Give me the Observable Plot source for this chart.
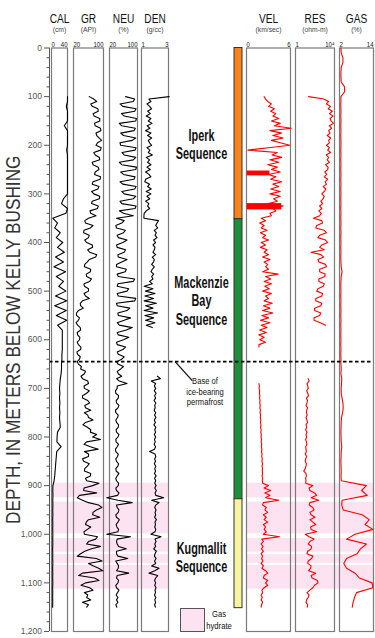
<!DOCTYPE html>
<html>
<head>
<meta charset="utf-8">
<script src="https://cdn.jsdelivr.net/npm/d3@7"></script>
<script src="https://cdn.jsdelivr.net/npm/@observablehq/plot@0.6"></script>
<style>
html,body{margin:0;padding:0;background:#fff;}
#chart{position:relative;width:375px;height:638px;overflow:hidden;font-family:"Liberation Sans",Arial,Helvetica,sans-serif;}
#chart svg{position:absolute;top:0;}
.legend-box{position:absolute;left:180px;top:608px;width:25px;height:24px;box-sizing:border-box;background:#fde3f1;border:1px solid #555;}
.legend-text{position:absolute;left:204px;top:609px;width:30px;text-align:center;font-size:9px;line-height:11.5px;color:#111;transform:scaleX(0.85);}
</style>
</head>
<body>
<div id="chart">
  <div class="legend-box"></div>
  <div class="legend-text">Gas<br>hydrate</div>
</div>
<script>
// ---------------- DATA ----------------
const LOG_TOP = 100;      // first depth of the wireline logs (m)
const GAS_TOP = 0;        // first depth of the mud-gas log (m)
const FINE_STEP = 5;      // sampling of GR, NEU, DEN, VEL, RES (m)
const COARSE_STEP = 10;   // sampling of CAL and GAS (m)

// Caliper (cm), 100–1150 m every 10 m
const calValues = [
  40, 40, 37, 40, 40, 40, 32, 40, 40, 40,
  40, 38, 40, 40, 40, 40, 40, 40, 40, 40,
  40, 30, 25, 40, 36, 3, 15, 8, 22, 12,
  28, 15, 32, 10, 30, 6, 35, 12, 30, 18,
  36, 10, 38, 8, 37, 12, 38, 15, 27, 27,
  27, 27, 27, 26, 26, 25, 25, 24, 22, 21,
  20, 21, 20, 21, 20, 21, 20, 21, 22, 15,
  14, 13.5, 24, 13, 12, 11, 10, 9, 8, 6.5,
  3.5, 3.2, 3.6, 3.2, 3.5, 3.1, 3.4, 3.0, 3.3, 3.0,
  3.4, 3.1, 3.3, 2.9, 3.2, 3.0, 3.3, 2.9, 3.2, 3.0,
  3.3, 2.9, 3.1, 2.9, 3.1, 2.8
];
// Gamma ray (API), 100–1150 m every 5 m
const grValues = [
  62, 74, 82, 66, 70, 85, 86, 72, 75, 90, 90, 76, 78, 92, 93, 80, 82, 88, 95, 84,
  80, 94, 92, 74, 78, 89, 90, 70, 72, 86, 88, 78, 76, 92, 91, 72, 70, 88, 85, 68,
  74, 90, 89, 70, 68, 86, 84, 64, 66, 80, 60, 50, 52, 72, 65, 48, 47, 62, 60, 50,
  55, 70, 71, 58, 63, 82, 79, 62, 57, 50, 49, 66, 65, 54, 55, 68, 63, 48, 49, 60,
  60, 48, 52, 62, 44, 38, 39, 46, 33, 28, 28, 36, 33, 27, 31, 38, 39, 30, 31, 37,
  36, 30, 33, 40, 39, 29, 31, 38, 36, 30, 33, 41, 39, 52, 49, 40, 44, 58, 60, 48,
  49, 62, 55, 44, 44, 58, 63, 50, 52, 66, 49, 58, 60, 72, 52, 45, 57, 66, 65, 82,
  71, 92, 55, 48, 65, 86, 49, 60, 60, 44, 47, 62, 57, 50, 49, 66, 65, 52, 55, 88,
  71, 48, 47, 82, 36, 30, 44, 60, 87, 96, 81, 72, 71, 90, 60, 54, 52, 66, 57, 48,
  49, 84, 79, 60, 55, 92, 68, 50, 39, 30, 81, 96, 60, 72, 87, 98, 44, 34, 76, 88,
  52, 40, 63, 72, 49, 58, 55, 66, 44, 60, 55
];
// Neutron porosity (%), 100–1150 m every 5 m
const neuValues = [
  66, 92, 88, 50, 58, 96, 92, 54, 62, 97, 95, 48, 55, 94, 90, 52, 60, 95, 85, 50,
  52, 96, 93, 56, 62, 95, 88, 48, 55, 97, 95, 52, 60, 93, 90, 50, 58, 96, 92, 55,
  62, 95, 88, 50, 55, 96, 93, 48, 60, 88, 40, 62, 55, 38, 40, 65, 60, 42, 45, 70,
  58, 40, 42, 66, 62, 44, 45, 70, 55, 40, 40, 68, 65, 42, 45, 92, 88, 44, 42, 75,
  70, 42, 45, 95, 92, 40, 42, 78, 70, 44, 45, 80, 62, 42, 48, 85, 68, 42, 45, 75,
  60, 40, 42, 66, 58, 42, 45, 62, 55, 40, 44, 60, 52, 42, 45, 55, 40, 48, 70, 42,
  42, 37, 38, 46, 45, 39, 40, 47, 44, 37, 38, 45, 43, 38, 40, 46, 45, 39, 40, 47,
  44, 38, 39, 46, 42, 37, 38, 45, 43, 38, 40, 46, 44, 38, 39, 47, 42, 38, 40, 46,
  45, 38, 40, 47, 43, 12, 44, 85, 40, 42, 47, 45, 38, 40, 48, 44, 39, 41, 46, 44,
  12, 80, 42, 40, 42, 46, 68, 40, 40, 44, 72, 38, 42, 46, 45, 40, 75, 42, 40, 46,
  44, 38, 40, 47, 43, 39, 44, 40, 44, 38, 41
];
// Bulk density (g/cc), 100–1150 m every 5 m (null = not logged)
const denValues = [
  3.05, 1.55, 1.7, 1.4, 1.6, 1.75, 1.45, 1.65, 1.35, 1.7, 1.5, 1.78, 1.42, 1.62, 1.3, 1.7, 1.45, 1.75, 1.5, 1.6,
  1.75, 1.4, 1.62, 1.5, 1.8, 1.35, 1.6, 1.45, 1.7, 1.4, 1.65, 1.3, 1.55, 1.7, 1.3, 1.25, 1.6, 1.45, 1.72, 1.35,
  1.7, 1.4, 1.62, 1.3, 1.55, 1.45, 1.6, 1.35, 1.2, 1.18, 1.18, 2.26, 2.15, 2.05, 2.2, 1.95, 2.1, 2.0, 2.15, 1.9,
  2.05, 1.85, 2.0, 1.95, 1.85, 2.05, 1.8, 1.95, 1.9, 1.75, 1.95, 1.8, 1.7, 1.9, 1.75, 1.85, 1.6, 1.8, 1.2, 1.85,
  1.3, 2.0, 1.25, 1.9, 1.2, 2.1, 1.3, 1.85, 1.2, 2.2, 1.25, 1.9, 1.3, 2.0, 1.35, 1.8, null, null, null, null,
  null, null, null, null, null, null, null, null, null, null, null, null, null, null, null, 2.18, 2.4, 1.72, 2.05, 1.95,
  2.05, 1.95, 2.08, 1.97, 2.04, 1.93, 2.06, 1.98, 2.02, 1.94, 2.05, 1.97, 2.07, 1.95, 2.03, 1.92, 2.06, 1.98, 2.04, 1.95,
  2.05, 1.96, 2.02, 1.94, 2.04, 1.97, 1.6, 2.0, 2.06, 1.97, 2.04, 1.95, 2.06, 1.98, 2.04, 1.96, 2.08, 1.97, 2.05, 1.98,
  2.08, 1.98, 2.1, 2.0, 2.06, 2.65, 1.75, 2.3, 2.05, 1.98, 2.08, 2.0, 2.05, 1.97, 2.1, 2.0, 2.04, 1.98, 2.06, 2.0,
  1.7, 2.45, 2.0, 2.08, 1.98, 2.05, 1.9, 2.1, 2.0, 1.96, 2.08, 1.97, 2.05, 1.75, 2.3, 1.98, 1.55, 2.2, 2.05, 1.97,
  2.05, 1.98, 2.07, 2.0, 2.04, 1.96, 2.06, 1.98, 2.05, 1.97, 2.03
];
// Sonic velocity (km/sec), 100–1150 m every 5 m
const velValues = [
  2.4, 2.6, 2.9, 3.4, 3.0, 3.8, 3.3, 4.0, 3.6, 4.4, 3.4, 4.6, 3.8, 6.1, 3.2, 4.8, 3.6, 5.0, 3.4, 4.6,
  5.9, 3.0, 0.2, 4.2, 3.5, 4.8, 3.2, 4.4, 2.9, 4.2, 3.4, 4.6, 3.0, 4.0, 3.3, 4.8, 3.6, 4.4, 3.3, 4.6,
  3.2, 4.6, 3.7, 4.2, 3.0, 5.0, 3.6, 4.0, 3.2, 3.4, 2.0, 2.6, 1.8, 2.4, 2.0, 2.8, 1.9, 2.6, 2.2, 3.0,
  2.0, 2.6, 1.9, 2.8, 2.4, 3.0, 2.2, 3.2, 2.4, 2.9, 2.6, 3.0, 2.2, 4.3, 2.6, 3.3, 2.4, 3.4, 2.5, 3.1,
  2.2, 3.4, 2.6, 3.0, 2.4, 3.5, 2.3, 3.2, 2.2, 3.6, 2.1, 3.0, 1.9, 3.2, 2.0, 2.8, 1.8, 2.7, 1.7, 2.4,
  1.8, 2.6, 1.7, 1.7, null, null, null, null, null, null, null, null, null, null, null, null, null, null, 1.7, 1.75,
  1.72, 1.8, 1.75, 1.82, 1.78, 1.85, 1.8, 1.88, 1.82, 1.9, 1.85, 1.92, 1.88, 1.95, 1.9, 1.98, 1.92, 2.0, 1.95, 2.02,
  1.98, 2.05, 2.0, 2.08, 2.02, 2.1, 2.05, 2.12, 2.08, 2.15, 2.1, 2.2, 2.12, 2.18, 2.15, 2.2, 2.12, 2.22, 2.15, 2.2,
  3.0, 2.4, 3.3, 2.5, 3.2, 2.6, 4.4, 2.3, 2.2, 2.7, 2.5, 2.9, 2.3, 2.7, 2.4, 2.9, 2.3, 2.6, 2.4, 2.7,
  2.3, 4.5, 2.1, 2.3, 2.0, 2.25, 2.05, 2.3, 2.0, 2.2, 2.05, 2.25, 2.0, 2.3, 2.1, 2.6, 2.9, 2.4, 2.3, 2.9,
  2.6, 2.9, 2.4, 2.1, 2.2, 2.0, 2.15, 2.0, 2.2, 2.05, 2.0
];
// clusters of low-velocity spikes (m, km/sec)
const velBurstTops = [253, 320];
const velBurstBases = [263, 333];
const velBurstLow = [0.1, 0.1];
const velBurstHigh = [3.2, 4.8];
// Resistivity (ohm-m), 100–1150 m every 5 m
const resValues = [
  22, 800, 2500, 1500, 4000, 2200, 6000, 3000, 7000, 3500, 4500, 8000, 3000, 5000, 2500, 3500, 1800, 4000, 2500, 3000,
  1500, 3000, 2000, 4000, 1400, 2500, 1800, 3000, 1200, 2200, 2000, 1000, 1600, 900, 2000, 1100, 1500, 700, 1300, 900,
  500, 900, 700, 400, 600, 300, 500, 250, 450, 300, 70, 500, 600, 150, 120, 900, 1500, 300, 200, 1200,
  2000, 500, 300, 900, 40, 400, 800, 200, 250, 1200, 1500, 300, 300, 1100, 1000, 250, 250, 900, 700, 200,
  150, 600, 500, 120, 120, 500, 400, 90, 90, 400, 300, 80, 80, 350, 1200, null, null, null, null, null,
  null, null, null, null, null, null, null, null, null, null, null, null, null, null, null, null, 20, 25, 15, 18,
  20, 14, 18, 22, 13, 17, 15, 12, 17, 14, 13, 16, 12, 15, 17, 12, 14, 11, 15, 12,
  14, 11, 13, 15, 11, 12, 13, 10, 14, 11, 10, 13, 12, 10, 7, 12, 13, 11, 12, 11,
  60, 25, 30, 90, 150, 40, 240, 30, 25, 60, 80, 30, 40, 100, 30, 60, 120, 35, 40, 150,
  10, 25, 80, 30, 20, 45, 40, 18, 15, 60, 45, 20, 18, 40, 35, 22, 120, 40, 50, 180,
  200, 90, 60, 30, 15, 25, 20, 14, 12, 18, 16
];
// Mud gas (%), 0–1150 m every 10 m
const gasValues = [
  2.5, 2.6, 3.2, 3.2, 2.6, 2.5, 2.5, 2.6, 3.8, 3.8,
  2.5, 2.5, 2.45, 2.5, 2.45, 2.5, 2.45, 2.5, 2.45, 2.5,
  2.5, 2.45, 2.5, 2.45, 2.5, 2.45, 2.5, 2.45, 2.5, 2.45,
  2.5, 2.45, 2.5, 2.45, 2.5, 2.45, 2.5, 2.45, 2.5, 2.45,
  2.5, 2.45, 2.5, 2.45, 2.5, 2.6, 2.9, 2.6, 2.5, 2.45,
  2.5, 2.45, 2.5, 2.45, 2.5, 2.45, 2.5, 2.45, 2.5, 2.45,
  2.5, 2.45, 2.5, 2.45, 2.5, 2.5, 2.6, 2.5, 2.8, 2.7,
  2.6, 2.6, 2.9, 3.2, 3.3, 3.1, 2.7, 2.6, 2.55, 2.5,
  2.55, 2.6, 2.8, 2.6, 2.55, 2.5, 2.55, 2.6, 2.55, 2.6,
  11.5, 9.8, 11.8, 2.9, 2.8, 3.3, 10.0, 12.5, 11.0, 13.8,
  7.5, 4.5, 11.5, 9.4, 8.2, 4.5, 3.5, 4.5, 7.5, 9.0,
  13.5, 13.8, 8.0, 7.3, 6.8, 6.5
];

// Track headers
const trackNames = ["CAL", "GR", "NEU", "DEN", "VEL", "RES", "GAS"];
const trackUnits = ["(cm)", "(API)", "(%)", "(g/cc)", "(km/sec)", "(ohm-m)", "(%)"];
const trackMin = [0, 20, 20, 1, 0, 1, 2];
const trackMax = [40, 100, 100, 3, 6, 10000, 14];
const trackMinLabels = ["0", "20", "20", "1", "0", "1", "2"];
const trackMaxLabels = ["40", "100", "100", "3", "6", "10⁴", "14"];

// Gas hydrate intervals (m)
const hydrateTops = [895, 934, 1009, 1042, 1064];
const hydrateBases = [925, 999, 1037, 1060, 1113];

// Sequences (m)
const seqNames = ["Iperk", "Mackenzie Bay", "Kugmallit"];
const seqTops = [0, 352, 928];
const seqBases = [352, 928, 1152];
const seqColors = ["#f7841e", "#1d8f3a", "#f8f59e"];
const seqLabels = ["Iperk\nSequence", "Mackenzie\nBay\nSequence", "Kugmallit\nSequence"];
const seqLabelDepths = [198, 519, 1047];

const permafrostDepth = 645;
const permafrostLabel = "Base of\nice-bearing\npermafrost";

const depthTicks = [0, 100, 200, 300, 400, 500, 600, 700, 800, 900, 1000, 1100, 1200];
const depthMinorTicks = d3.range(0, 1201, 20).filter(d => d % 100 !== 0);
const depthTitle = "DEPTH, IN METERS BELOW KELLY BUSHING";

// ---------------- LAYOUT ----------------
const H = 638, MT = 47.5, MB = 7;
const FONT = '"Liberation Sans", Arial, Helvetica, sans-serif';
const PINK = "#fde3f1";
const trackLayout = {
  CAL: {left: 51, width: 16, color: "#000"},
  GR:  {left: 73, width: 30, color: "#000"},
  NEU: {left: 109, width: 28, color: "#000"},
  DEN: {left: 141, width: 27, color: "#000"},
  VEL: {left: 246, width: 44, color: "#ff0000"},
  RES: {left: 295, width: 39, color: "#ff0000"},
  GAS: {left: 339, width: 34, color: "#ff0000"}
};
const chart = document.getElementById("chart");

function series(start, step, values) {
  const out = []; let seg = 0;
  values.forEach((v, i) => {
    if (v == null) { seg++; return; }
    out.push({d: start + i * step, v, seg});
  });
  return out;
}
const trackData = {
  CAL: series(LOG_TOP, COARSE_STEP, calValues),
  GR: series(LOG_TOP, FINE_STEP, grValues),
  NEU: series(LOG_TOP, FINE_STEP, neuValues),
  DEN: series(LOG_TOP, FINE_STEP, denValues),
  VEL: series(LOG_TOP, FINE_STEP, velValues),
  RES: series(LOG_TOP, FINE_STEP, resValues),
  GAS: series(GAS_TOP, COARSE_STEP, gasValues)
};
const hydrates = hydrateTops.map((t, i) => ({top: t, bottom: hydrateBases[i]}));
const sequences = seqNames.map((n, i) => ({name: n, top: seqTops[i], bottom: seqBases[i], color: seqColors[i], label: seqLabels[i], labelDepth: seqLabelDepths[i]}));
const velBursts = velBurstTops.map((t, i) => ({top: t, bottom: velBurstBases[i], lo: velBurstLow[i], hi: velBurstHigh[i]}));

function base(width, extra) {
  return Object.assign({
    width, height: H, marginTop: MT, marginBottom: MB, marginLeft: 0, marginRight: 0,
    y: {domain: [0, 1200], reverse: true, axis: null},
    style: {background: "transparent", overflow: "visible", fontFamily: FONT}
  }, extra);
}
function place(svg, left) {
  svg.style.position = "absolute";
  svg.style.left = left + "px";
  svg.style.top = "0px";
  chart.appendChild(svg);
  return svg;
}
// horizontally condense texts tagged with a given aria-label (mimics the narrow typeface)
function condense(svg, label, k) {
  svg.querySelectorAll(`text[aria-label="${label}"]`).forEach(el => {
    el.setAttribute("transform", (el.getAttribute("transform") || "") + ` scale(${k},1)`);
  });
}
const tag = (name) => () => name;

// hydrate shading behind the two groups of tracks
[[51, 117], [246, 127]].forEach(([left, width]) => {
  place(Plot.plot(base(width, {
    x: {domain: [0, 1], axis: null},
    marks: [Plot.rect(hydrates, {x1: 0, x2: 1, y1: "top", y2: "bottom", fill: PINK})]
  })), left);
});

// log tracks
trackNames.forEach((name, i) => {
  const L = trackLayout[name];
  const marks = [Plot.frame({stroke: "#7a7a7a", strokeWidth: 1.2})];
  if (name === "VEL") marks.push(Plot.rect(velBursts, {x1: "lo", x2: "hi", y1: "top", y2: "bottom", fill: L.color}));
  marks.push(Plot.line(trackData[name], {x: "v", y: "d", z: "seg", stroke: L.color, strokeWidth: 1.1}));
  marks.push(Plot.text([name], {text: d => d, frameAnchor: "top", dy: -34, fontSize: 13, fill: "#111", ariaLabel: tag("hdr")}));
  marks.push(Plot.text([trackUnits[i]], {text: d => d, frameAnchor: "top", dy: -21.5, fontSize: 8, fill: "#444", ariaLabel: tag("unit")}));
  marks.push(Plot.text([trackMinLabels[i]], {text: d => d, frameAnchor: "top-left", dy: -6.5, textAnchor: "start", fontSize: 7.5, fill: "#111", ariaLabel: tag("tick")}));
  marks.push(Plot.text([trackMaxLabels[i]], {text: d => d, frameAnchor: "top-right", dy: -6.5, textAnchor: "end", fontSize: 7.5, fill: "#111", ariaLabel: tag("tick")}));
  const svg = Plot.plot(base(L.width, {
    x: {type: name === "RES" ? "log" : "linear", domain: [trackMin[i], trackMax[i]], axis: null},
    marks
  }));
  condense(svg, "hdr", 0.78);
  condense(svg, "unit", 0.85);
  condense(svg, "tick", 0.8);
  place(svg, L.left);
});

// sequence colour bar
place(Plot.plot(base(8, {
  x: {domain: [0, 1], axis: null},
  color: {type: "identity"},
  marks: [Plot.rect(sequences, {x1: 0, x2: 1, y1: "top", y2: "bottom", fill: "color", stroke: "#333", strokeWidth: 1})]
})), 234);

// middle labels
{
  const svg = Plot.plot(base(66, {
    x: {domain: [0, 1], axis: null},
    marks: [
      Plot.text(sequences, {y: "labelDepth", text: "label", fontSize: 16, fontWeight: "bold", lineHeight: 1.15, fill: "#111", ariaLabel: tag("seq")}),
      Plot.link([permafrostDepth], {x1: 0.1, y1: d => d, x2: 0.36, y2: d => d + 39, stroke: "#111", strokeWidth: 1.3}),
      Plot.text([permafrostLabel], {x: 0.553, y: permafrostDepth + 61, text: d => d, fontSize: 9.5, lineHeight: 1.1, fill: "#111", ariaLabel: tag("annot")})
    ]
  }));
  condense(svg, "seq", 0.68);
  condense(svg, "annot", 0.8);
  place(svg, 168);
}

// base of permafrost dashed line
place(Plot.plot(base(375, {
  marginLeft: 49, marginRight: 2,
  x: {domain: [0, 1], axis: null},
  marks: [Plot.ruleY([permafrostDepth], {stroke: "#000", strokeWidth: 1.6, strokeDasharray: "3.5,2.5"})]
})), 0);

// depth axis
{
  const svg = Plot.plot(base(50, {
    marginLeft: 49, marginRight: 0,
    x: {domain: [0, 1], axis: null},
    marks: [
      Plot.axisY(depthMinorTicks, {tickSize: 2.5, tickFormat: () => "", color: "#555", label: null}),
      Plot.axisY(depthTicks, {tickSize: 5, tickPadding: 2.5, fontSize: 8.5, color: "#555", label: null}),
      Plot.ruleX([0], {stroke: "#555", strokeWidth: 1}),
      Plot.text([depthTitle], {text: d => d, frameAnchor: "left", textAnchor: "middle", dx: -36.3, rotate: -90, fontSize: 21, fill: "#333", ariaLabel: tag("ytitle")})
    ]
  }));
  condense(svg, "ytitle", 0.82);
  place(svg, 0);
}
</script>
</body>
</html>
